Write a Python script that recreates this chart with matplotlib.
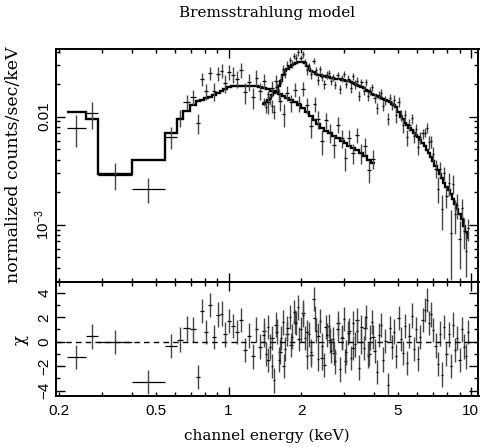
import numpy as np
import matplotlib
matplotlib.use("Agg")
import matplotlib.pyplot as plt
from matplotlib.ticker import FixedLocator, NullFormatter, FuncFormatter, MultipleLocator

plt.rcParams['mathtext.fontset'] = 'custom'
plt.rcParams['mathtext.rm'] = 'Liberation Sans'
plt.rcParams['mathtext.it'] = 'Liberation Sans:italic'

# ---------------- data (counts/sec/keV in units of 1e-3) ----------------
# dataset A (soft instrument): bin edges in keV
A_edges = [0.2146, 0.257, 0.290, 0.398, 0.547, 0.610, 0.650, 0.692, 0.737, 0.765,
           0.793, 0.823, 0.854, 0.886, 0.919, 0.953, 0.989, 1.026, 1.065, 1.105,
           1.146, 1.189, 1.234, 1.280, 1.328, 1.378, 1.430, 1.483, 1.539, 1.596,
           1.656, 1.718, 1.783, 1.850, 1.919, 1.991, 2.066, 2.143, 2.224, 2.307,
           2.393, 2.483, 2.576, 2.673, 2.773, 2.877, 2.985, 3.097, 3.213, 3.333,
           3.458, 3.588, 3.722, 3.862, 4.007]
A_model = [11.1, 9.4, 2.93, 3.95, 7.0, 9.4, 11.3, 12.8,
           13.9, 14.3, 14.7, 15.1, 15.9, 16.6, 17.4, 18.1, 18.8, 19.1,
           19.3, 19.3, 19.3, 19.2, 19.2, 19.0, 18.7, 18.3, 17.9, 17.4,
           16.8, 16.1, 15.5, 14.9, 14.2, 13.5, 12.8, 11.9, 11.0, 10.1,
           9.3, 8.6, 7.9, 7.4, 7.0, 6.6, 6.3, 6.0, 5.7, 5.35,
           5.1, 4.85, 4.6, 4.3, 4.0, 3.75]
A_data = [7.78, 10.7, 2.9, 2.13, 6.5, 9.7, 13.6, 15.2,
          8.7, 22.3, 17.1, 25.3, 17.2, 25.0, 26.6, 20.4, 25.9, 24.4,
          22.5, 27.0, 16.8, 21.1, 15.1, 22.9, 17.4, 21.4, 13.5, 18.3,
          21.3, 13.9, 10.5, 16.5, 13.5, 17.7, 13.3, 18.1, 12.7, 8.1,
          13.1, 9.45, 5.95, 9.3, 7.15, 5.4, 8.4, 6.35, 4.1, 6.35,
          4.6, 6.8, 4.6, 5.35, 3.2, 4.05]
A_err = [2.6, 3.0, 0.8, 0.55, 1.5, 1.7, 2.1, 2.4,
         1.8, 3.2, 3.0, 3.4, 3.2, 3.8, 4.0, 3.8, 4.2, 4.1,
         4.0, 4.3, 3.6, 3.8, 3.4, 3.9, 3.2, 3.4, 2.9, 3.0,
         3.2, 2.7, 2.5, 2.6, 2.4, 2.6, 2.3, 2.6, 2.1, 1.8,
         2.0, 1.7, 1.5, 1.6, 1.4, 1.3, 1.4, 1.2, 1.0, 1.1,
         1.0, 1.1, 0.95, 0.95, 0.8, 0.8]

# dataset B (hard instrument)
B_edges = [1.380, 1.409, 1.438, 1.468, 1.499, 1.530, 1.562, 1.595, 1.628, 1.662,
           1.697, 1.733, 1.769, 1.806, 1.844, 1.882, 1.922, 1.962, 2.003, 2.045,
           2.088, 2.131, 2.176, 2.221, 2.268, 2.315, 2.364, 2.413, 2.464, 2.515,
           2.568, 2.622, 2.677, 2.733, 2.790, 2.848, 2.908, 2.969, 3.031, 3.094,
           3.159, 3.225, 3.293, 3.362, 3.432, 3.504, 3.577, 3.652, 3.729, 3.807,
           3.886, 3.968, 4.051, 4.136, 4.222, 4.311, 4.401, 4.493, 4.587, 4.683,
           4.781, 4.881, 4.983, 5.088, 5.194, 5.303, 5.414, 5.527, 5.643, 5.761,
           5.882, 6.005, 6.131, 6.259, 6.390, 6.524, 6.660, 6.800, 6.942, 7.087,
           7.236, 7.387, 7.542, 7.700, 7.861, 8.025, 8.193, 8.365, 8.540, 8.718,
           8.901, 9.087, 9.277, 9.471, 9.670, 9.872]
B_model = [13.0, 13.6, 14.3, 15.0, 15.7, 16.5, 17.4, 19.0, 21.5, 24.0,
           26.3, 27.8, 28.9, 29.8, 30.6, 31.3, 31.9, 32.2, 32.0, 31.1,
           29.6, 27.8, 26.3, 25.6, 25.0, 24.5, 24.2, 23.9, 23.6, 23.3,
           23.0, 22.8, 22.6, 22.5, 22.3, 22.1, 21.9, 21.7, 21.5, 21.3,
           21.0, 20.6, 20.2, 19.7, 19.2, 18.7, 18.2, 17.7, 17.2, 16.7,
           16.3, 15.9, 15.5, 15.1, 14.7, 14.4, 14.1, 13.8, 13.5, 13.2,
           12.8, 12.2, 11.0, 10.0, 9.4, 8.8, 8.3, 7.9, 7.5, 7.1,
           6.7, 6.4, 6.1, 5.7, 5.3, 4.9, 4.55, 4.2, 3.85, 3.5,
           3.2, 2.95, 2.7, 2.45, 2.25, 2.08, 1.9, 1.72, 1.55, 1.4,
           1.26, 1.12, 0.98, 0.86, 0.75]
B_data = [13.7, 12.2, 16.0, 14.4, 12.5, 11.1, 18.8, 16.2, 22.2, 27.8,
          25.0, 30.2, 33.5, 30.8, 36.4, 35.1, 39.2, 34.8, 37.7, 31.9,
          26.7, 29.1, 24.6, 32.6, 26.8, 21.7, 27.4, 23.3, 20.0, 24.3,
          25.3, 21.5, 23.0, 19.6, 24.1, 18.0, 22.6, 24.9, 20.0, 22.5,
          18.5, 23.5, 19.8, 21.3, 15.6, 20.7, 17.4, 20.9, 15.5, 17.2,
          18.7, 14.8, 12.0, 15.9, 16.5, 12.5, 14.2, 9.5, 14.8, 12.7,
          14.2, 10.3, 13.7, 10.3, 8.3, 10.3, 6.4, 8.4, 9.6, 6.55,
          7.6, 5.25, 6.4, 7.0, 7.1, 7.9, 5.8, 5.9, 4.5, 3.3,
          2.15, 3.3, 1.38, 2.98, 1.84, 2.43, 0.84, 2.39, 1.25, 1.52,
          0.74, 1.43, 0.87, 0.57, 0.92]
B_err = [1.3, 1.4, 1.4, 1.5, 1.6, 1.7, 1.7, 1.9, 2.2, 2.4,
         2.1, 2.2, 2.3, 2.4, 2.4, 2.5, 2.6, 2.6, 2.6, 2.5,
         2.4, 2.2, 2.1, 2.0, 2.0, 2.0, 1.9, 1.9, 1.9, 1.9,
         1.8, 1.8, 1.8, 1.8, 1.8, 1.8, 1.8, 1.7, 1.7, 1.7,
         1.9, 1.9, 1.8, 1.8, 1.7, 1.7, 1.6, 1.6, 1.5, 1.5,
         1.5, 1.4, 1.4, 1.4, 1.3, 1.3, 1.3, 1.2, 1.2, 1.2,
         1.7, 1.6, 1.4, 1.3, 1.2, 1.15, 1.1, 1.0, 0.98, 0.92,
         0.87, 0.83, 0.79, 0.74, 0.69, 0.88, 0.82, 0.76, 0.69, 0.63,
         0.58, 0.53, 0.49, 0.44, 0.41, 0.58, 0.53, 0.48, 0.43, 0.39,
         0.35, 0.31, 0.27, 0.24, 0.21]

x_ticks = [0.2, 0.5, 1, 2, 5, 10]
x_ticklabels = ["0.2", "0.5", "1", "2", "5", "10"]
chi_ticks = [-4, -2, 0, 2, 4]

SCALE = 1e-3
SERIF = "DejaVu Serif"
SANS = "Liberation Sans"

W, H = 481, 447
fig = plt.figure(figsize=(W / 100, H / 100), dpi=100)
L, R = 55.7, 478.5
ax1 = fig.add_axes([L / W, 1 - 282 / H, (R - L) / W, (282 - 49) / H])
ax2 = fig.add_axes([L / W, 1 - 396 / H, (R - L) / W, (396 - 282) / H], sharex=ax1)


def plot_set(edges, model, data, err):
    edges = np.asarray(edges)
    model = np.asarray(model) * SCALE
    data = np.asarray(data) * SCALE
    err = np.asarray(err) * SCALE
    lo, hi = edges[:-1], edges[1:]
    E = np.sqrt(lo * hi)
    xe = [E - lo, hi - E]
    # top panel
    ax1.errorbar(E, data, yerr=err, fmt='none', ecolor='0.28', elinewidth=1.0, capsize=0)
    ax1.errorbar(E, data, xerr=xe, fmt='none', ecolor='k', elinewidth=0.9, capsize=0)
    ax1.stairs(model, edges, color='k', lw=1.7, baseline=None)
    # residuals
    chi = (data - model) / err
    ax2.errorbar(E, chi, yerr=np.ones_like(chi), fmt='none', ecolor='0.28', elinewidth=1.0, capsize=0)
    ax2.errorbar(E, chi, xerr=xe, fmt='none', ecolor='k', elinewidth=0.9, capsize=0)


plot_set(A_edges, A_model, A_data, A_err)
plot_set(B_edges, B_model, B_data, B_err)

ax2.axhline(0, color='k', lw=1.0, ls=(0, (4, 3)))

ax1.set_xscale('log')
ax1.set_yscale('log')
ax1.set_xlim(0.1933, 10.77)
ax1.set_ylim(2.94e-4, 0.0422)
ax2.set_ylim(-4.45, 4.89)

# x ticks: majors at decades, minors at 2..9
minor_x = [v * d for d in (0.1, 1.0) for v in range(2, 10) if v * d > 0.19]
ax2.xaxis.set_major_locator(FixedLocator([1, 10]))
ax2.xaxis.set_minor_locator(FixedLocator(minor_x))


def xfmt(v, pos):
    for t, lab in zip(x_ticks, x_ticklabels):
        if abs(v - t) < 1e-6:
            return lab
    return ""


ax2.xaxis.set_major_formatter(FuncFormatter(xfmt))
ax2.xaxis.set_minor_formatter(FuncFormatter(xfmt))
plt.setp(ax1.get_xticklabels(which='both'), visible=False)


def yfmt(v, pos):
    if abs(v - 0.01) < 1e-9:
        return "0.01"
    if abs(v - 1e-3) < 1e-10:
        return r"$10^{-3}$"
    return ""


ax1.yaxis.set_major_formatter(FuncFormatter(yfmt))
ax1.yaxis.set_minor_formatter(NullFormatter())

ax2.yaxis.set_major_locator(FixedLocator(chi_ticks))
ax2.yaxis.set_minor_locator(MultipleLocator(1))
ax2.yaxis.set_major_formatter(FuncFormatter(lambda v, p: f"{int(v)}".replace("-", "\u2212")))

for ax in (ax1, ax2):
    ax.tick_params(which='both', direction='in', top=True, right=True, width=1.0,
                   labelsize=11, labelfontfamily=SANS)
    ax.tick_params(which='major', length=6.5)
    ax.tick_params(which='minor', length=3.2)
    ax.tick_params(axis='y', which='both', labelrotation=90, pad=3)
    ax.tick_params(axis='x', which='both', pad=6)
    for s in ax.spines.values():
        s.set_linewidth(1.4)
    for lab in ax.get_yticklabels():
        lab.set_va('center')

fig.text(267 / W, 1 - 13 / H, "Bremsstrahlung model", ha='center', va='center',
         family=SERIF, fontsize=11)
fig.text(267 / W, 1 - 436 / H, "channel energy (keV)", ha='center', va='center',
         family=SERIF, fontsize=11)
fig.text(14 / W, 1 - 165 / H, "normalized counts/sec/keV", ha='center', va='center',
         rotation=90, family=SERIF, fontsize=12.5)
fig.text(20 / W, 1 - 340 / H, "\u03c7", ha='center', va='center',
         rotation=90, family=SERIF, fontsize=12)

fig.savefig("out.png", dpi=100)
